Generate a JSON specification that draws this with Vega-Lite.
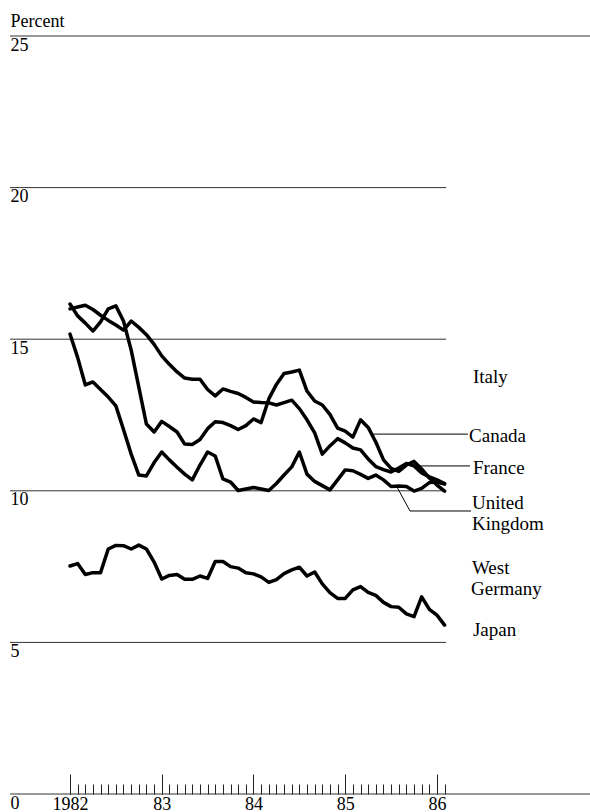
{
  "$schema": "https://vega.github.io/schema/vega-lite/v6.json",
  "width": 580,
  "height": 758,
  "autosize": {"type": "none"},
  "padding": {"left": 10, "top": 36, "right": 0, "bottom": 18},
  "background": "white",
  "config": {
    "view": {"stroke": null},
    "axis": {"labelFont": "Liberation Serif", "titleFont": "Liberation Serif"},
    "text": {"font": "Liberation Serif"}
  },
  "datasets": {
    "grid": [
      {"level": 25, "from": 1981.346, "to": 1987.668},
      {"level": 20, "from": 1981.346, "to": 1986.1},
      {"level": 15, "from": 1981.346, "to": 1986.1},
      {"level": 10, "from": 1981.346, "to": 1986.1},
      {"level": 5, "from": 1981.346, "to": 1986.1},
      {"level": 0, "from": 1981.346, "to": 1987.668}
    ],
    "series": [
      {"c": "Canada", "t": 1982, "v": 16.16}, {"c": "Canada", "t": 1982.083, "v": 15.77}, {"c": "Canada", "t": 1982.167, "v": 15.53}, {"c": "Canada", "t": 1982.25, "v": 15.27}, {"c": "Canada", "t": 1982.333, "v": 15.57}, {"c": "Canada", "t": 1982.417, "v": 16.0}, {"c": "Canada", "t": 1982.5, "v": 16.1}, {"c": "Canada", "t": 1982.583, "v": 15.6}, {"c": "Canada", "t": 1982.667, "v": 14.64}, {"c": "Canada", "t": 1982.75, "v": 13.42}, {"c": "Canada", "t": 1982.833, "v": 12.2}, {"c": "Canada", "t": 1982.917, "v": 11.94},
      {"c": "Canada", "t": 1983, "v": 12.29}, {"c": "Canada", "t": 1983.083, "v": 12.12}, {"c": "Canada", "t": 1983.167, "v": 11.94}, {"c": "Canada", "t": 1983.25, "v": 11.54}, {"c": "Canada", "t": 1983.333, "v": 11.53}, {"c": "Canada", "t": 1983.417, "v": 11.69}, {"c": "Canada", "t": 1983.5, "v": 12.05}, {"c": "Canada", "t": 1983.583, "v": 12.28}, {"c": "Canada", "t": 1983.667, "v": 12.25}, {"c": "Canada", "t": 1983.75, "v": 12.15}, {"c": "Canada", "t": 1983.833, "v": 12.02}, {"c": "Canada", "t": 1983.917, "v": 12.15},
      {"c": "Canada", "t": 1984, "v": 12.37}, {"c": "Canada", "t": 1984.083, "v": 12.25}, {"c": "Canada", "t": 1984.167, "v": 13.03}, {"c": "Canada", "t": 1984.25, "v": 13.51}, {"c": "Canada", "t": 1984.333, "v": 13.87}, {"c": "Canada", "t": 1984.417, "v": 13.92}, {"c": "Canada", "t": 1984.5, "v": 13.98}, {"c": "Canada", "t": 1984.583, "v": 13.29}, {"c": "Canada", "t": 1984.667, "v": 12.96}, {"c": "Canada", "t": 1984.75, "v": 12.83}, {"c": "Canada", "t": 1984.833, "v": 12.52}, {"c": "Canada", "t": 1984.917, "v": 12.07},
      {"c": "Canada", "t": 1985, "v": 11.97}, {"c": "Canada", "t": 1985.083, "v": 11.77}, {"c": "Canada", "t": 1985.167, "v": 12.34}, {"c": "Canada", "t": 1985.25, "v": 12.09}, {"c": "Canada", "t": 1985.333, "v": 11.61}, {"c": "Canada", "t": 1985.417, "v": 11.02}, {"c": "Canada", "t": 1985.5, "v": 10.74}, {"c": "Canada", "t": 1985.583, "v": 10.64}, {"c": "Canada", "t": 1985.667, "v": 10.85}, {"c": "Canada", "t": 1985.75, "v": 10.97}, {"c": "Canada", "t": 1985.833, "v": 10.72}, {"c": "Canada", "t": 1985.917, "v": 10.42},
      {"c": "Canada", "t": 1986, "v": 10.19}, {"c": "Canada", "t": 1986.083, "v": 9.99},

      {"c": "France", "t": 1982, "v": 16.0}, {"c": "France", "t": 1982.083, "v": 16.06}, {"c": "France", "t": 1982.167, "v": 16.12}, {"c": "France", "t": 1982.25, "v": 15.98}, {"c": "France", "t": 1982.333, "v": 15.79}, {"c": "France", "t": 1982.417, "v": 15.62}, {"c": "France", "t": 1982.5, "v": 15.47}, {"c": "France", "t": 1982.583, "v": 15.3}, {"c": "France", "t": 1982.667, "v": 15.6}, {"c": "France", "t": 1982.75, "v": 15.39}, {"c": "France", "t": 1982.833, "v": 15.15}, {"c": "France", "t": 1982.917, "v": 14.83},
      {"c": "France", "t": 1983, "v": 14.45}, {"c": "France", "t": 1983.083, "v": 14.17}, {"c": "France", "t": 1983.167, "v": 13.92}, {"c": "France", "t": 1983.25, "v": 13.72}, {"c": "France", "t": 1983.333, "v": 13.68}, {"c": "France", "t": 1983.417, "v": 13.68}, {"c": "France", "t": 1983.5, "v": 13.34}, {"c": "France", "t": 1983.583, "v": 13.13}, {"c": "France", "t": 1983.667, "v": 13.36}, {"c": "France", "t": 1983.75, "v": 13.28}, {"c": "France", "t": 1983.833, "v": 13.21}, {"c": "France", "t": 1983.917, "v": 13.08},
      {"c": "France", "t": 1984, "v": 12.93}, {"c": "France", "t": 1984.083, "v": 12.91}, {"c": "France", "t": 1984.167, "v": 12.9}, {"c": "France", "t": 1984.25, "v": 12.83}, {"c": "France", "t": 1984.333, "v": 12.91}, {"c": "France", "t": 1984.417, "v": 12.99}, {"c": "France", "t": 1984.5, "v": 12.71}, {"c": "France", "t": 1984.583, "v": 12.34}, {"c": "France", "t": 1984.667, "v": 11.91}, {"c": "France", "t": 1984.75, "v": 11.21}, {"c": "France", "t": 1984.833, "v": 11.48}, {"c": "France", "t": 1984.917, "v": 11.72},
      {"c": "France", "t": 1985, "v": 11.58}, {"c": "France", "t": 1985.083, "v": 11.41}, {"c": "France", "t": 1985.167, "v": 11.35}, {"c": "France", "t": 1985.25, "v": 11.05}, {"c": "France", "t": 1985.333, "v": 10.8}, {"c": "France", "t": 1985.417, "v": 10.7}, {"c": "France", "t": 1985.5, "v": 10.62}, {"c": "France", "t": 1985.583, "v": 10.75}, {"c": "France", "t": 1985.667, "v": 10.9}, {"c": "France", "t": 1985.75, "v": 10.82}, {"c": "France", "t": 1985.833, "v": 10.59}, {"c": "France", "t": 1985.917, "v": 10.46},
      {"c": "France", "t": 1986, "v": 10.36}, {"c": "France", "t": 1986.083, "v": 10.24},

      {"c": "United Kingdom", "t": 1982, "v": 15.17}, {"c": "United Kingdom", "t": 1982.083, "v": 14.4}, {"c": "United Kingdom", "t": 1982.167, "v": 13.49}, {"c": "United Kingdom", "t": 1982.25, "v": 13.59}, {"c": "United Kingdom", "t": 1982.333, "v": 13.34}, {"c": "United Kingdom", "t": 1982.417, "v": 13.09}, {"c": "United Kingdom", "t": 1982.5, "v": 12.8}, {"c": "United Kingdom", "t": 1982.583, "v": 12.02}, {"c": "United Kingdom", "t": 1982.667, "v": 11.21}, {"c": "United Kingdom", "t": 1982.75, "v": 10.52}, {"c": "United Kingdom", "t": 1982.833, "v": 10.49}, {"c": "United Kingdom", "t": 1982.917, "v": 10.93},
      {"c": "United Kingdom", "t": 1983, "v": 11.28}, {"c": "United Kingdom", "t": 1983.083, "v": 11.02}, {"c": "United Kingdom", "t": 1983.167, "v": 10.78}, {"c": "United Kingdom", "t": 1983.25, "v": 10.55}, {"c": "United Kingdom", "t": 1983.333, "v": 10.36}, {"c": "United Kingdom", "t": 1983.417, "v": 10.85}, {"c": "United Kingdom", "t": 1983.5, "v": 11.28}, {"c": "United Kingdom", "t": 1983.583, "v": 11.15}, {"c": "United Kingdom", "t": 1983.667, "v": 10.39}, {"c": "United Kingdom", "t": 1983.75, "v": 10.29}, {"c": "United Kingdom", "t": 1983.833, "v": 10.01}, {"c": "United Kingdom", "t": 1983.917, "v": 10.06},
      {"c": "United Kingdom", "t": 1984, "v": 10.11}, {"c": "United Kingdom", "t": 1984.083, "v": 10.06}, {"c": "United Kingdom", "t": 1984.167, "v": 10.01}, {"c": "United Kingdom", "t": 1984.25, "v": 10.24}, {"c": "United Kingdom", "t": 1984.333, "v": 10.52}, {"c": "United Kingdom", "t": 1984.417, "v": 10.79}, {"c": "United Kingdom", "t": 1984.5, "v": 11.28}, {"c": "United Kingdom", "t": 1984.583, "v": 10.55}, {"c": "United Kingdom", "t": 1984.667, "v": 10.31}, {"c": "United Kingdom", "t": 1984.75, "v": 10.17}, {"c": "United Kingdom", "t": 1984.833, "v": 10.03}, {"c": "United Kingdom", "t": 1984.917, "v": 10.36},
      {"c": "United Kingdom", "t": 1985, "v": 10.69}, {"c": "United Kingdom", "t": 1985.083, "v": 10.66}, {"c": "United Kingdom", "t": 1985.167, "v": 10.54}, {"c": "United Kingdom", "t": 1985.25, "v": 10.41}, {"c": "United Kingdom", "t": 1985.333, "v": 10.52}, {"c": "United Kingdom", "t": 1985.417, "v": 10.36}, {"c": "United Kingdom", "t": 1985.5, "v": 10.14}, {"c": "United Kingdom", "t": 1985.583, "v": 10.16}, {"c": "United Kingdom", "t": 1985.667, "v": 10.14}, {"c": "United Kingdom", "t": 1985.75, "v": 9.99}, {"c": "United Kingdom", "t": 1985.833, "v": 10.08}, {"c": "United Kingdom", "t": 1985.917, "v": 10.27},
      {"c": "United Kingdom", "t": 1986, "v": 10.29}, {"c": "United Kingdom", "t": 1986.083, "v": 10.22},

      {"c": "Japan", "t": 1982, "v": 7.52}, {"c": "Japan", "t": 1982.083, "v": 7.6}, {"c": "Japan", "t": 1982.167, "v": 7.24}, {"c": "Japan", "t": 1982.25, "v": 7.3}, {"c": "Japan", "t": 1982.333, "v": 7.3}, {"c": "Japan", "t": 1982.417, "v": 8.08}, {"c": "Japan", "t": 1982.5, "v": 8.2}, {"c": "Japan", "t": 1982.583, "v": 8.19}, {"c": "Japan", "t": 1982.667, "v": 8.08}, {"c": "Japan", "t": 1982.75, "v": 8.21}, {"c": "Japan", "t": 1982.833, "v": 8.08}, {"c": "Japan", "t": 1982.917, "v": 7.65},
      {"c": "Japan", "t": 1983, "v": 7.09}, {"c": "Japan", "t": 1983.083, "v": 7.21}, {"c": "Japan", "t": 1983.167, "v": 7.24}, {"c": "Japan", "t": 1983.25, "v": 7.08}, {"c": "Japan", "t": 1983.333, "v": 7.08}, {"c": "Japan", "t": 1983.417, "v": 7.19}, {"c": "Japan", "t": 1983.5, "v": 7.11}, {"c": "Japan", "t": 1983.583, "v": 7.67}, {"c": "Japan", "t": 1983.667, "v": 7.67}, {"c": "Japan", "t": 1983.75, "v": 7.5}, {"c": "Japan", "t": 1983.833, "v": 7.45}, {"c": "Japan", "t": 1983.917, "v": 7.3},
      {"c": "Japan", "t": 1984, "v": 7.26}, {"c": "Japan", "t": 1984.083, "v": 7.16}, {"c": "Japan", "t": 1984.167, "v": 6.98}, {"c": "Japan", "t": 1984.25, "v": 7.07}, {"c": "Japan", "t": 1984.333, "v": 7.27}, {"c": "Japan", "t": 1984.417, "v": 7.39}, {"c": "Japan", "t": 1984.5, "v": 7.48}, {"c": "Japan", "t": 1984.583, "v": 7.19}, {"c": "Japan", "t": 1984.667, "v": 7.32}, {"c": "Japan", "t": 1984.75, "v": 6.93}, {"c": "Japan", "t": 1984.833, "v": 6.64}, {"c": "Japan", "t": 1984.917, "v": 6.45},
      {"c": "Japan", "t": 1985, "v": 6.45}, {"c": "Japan", "t": 1985.083, "v": 6.73}, {"c": "Japan", "t": 1985.167, "v": 6.84}, {"c": "Japan", "t": 1985.25, "v": 6.65}, {"c": "Japan", "t": 1985.333, "v": 6.55}, {"c": "Japan", "t": 1985.417, "v": 6.32}, {"c": "Japan", "t": 1985.5, "v": 6.18}, {"c": "Japan", "t": 1985.583, "v": 6.16}, {"c": "Japan", "t": 1985.667, "v": 5.94}, {"c": "Japan", "t": 1985.75, "v": 5.85}, {"c": "Japan", "t": 1985.833, "v": 6.5}, {"c": "Japan", "t": 1985.917, "v": 6.09},
      {"c": "Japan", "t": 1986, "v": 5.9}, {"c": "Japan", "t": 1986.083, "v": 5.57}
    ],
    "leaders": [
      {"x": 1985.302, "y": 11.87, "x2": 1986.338, "y2": 11.87},
      {"x": 1985.76, "y": 10.82, "x2": 1986.36, "y2": 10.82},
      {"x": 1985.564, "y": 10.125, "x2": 1985.706, "y2": 9.334},
      {"x": 1985.706, "y": 9.334, "x2": 1986.371, "y2": 9.334}
    ],
    "labels": [
      {"label": "Italy", "x": 1986.392, "y": 13.75},
      {"label": "Canada", "x": 1986.35, "y": 11.81},
      {"label": "France", "x": 1986.392, "y": 10.75},
      {"label": "United", "x": 1986.381, "y": 9.6},
      {"label": "Kingdom", "x": 1986.381, "y": 8.9},
      {"label": "West", "x": 1986.381, "y": 7.45},
      {"label": "Germany", "x": 1986.371, "y": 6.76},
      {"label": "Japan", "x": 1986.392, "y": 5.41}
    ]
  },
  "resolve": {"axis": {"x": "independent"}},
  "layer": [
    {
      "data": {"name": "grid"},
      "mark": {"type": "rule", "color": "#333", "strokeWidth": 1},
      "encoding": {
        "x": {
          "field": "from", "type": "quantitative",
          "scale": {"domain": [1981.346, 1987.668], "nice": false, "zero": false},
          "axis": {
            "orient": "bottom",
            "title": null,
            "grid": false,
            "domain": false,
            "values": [1982, 1983, 1984, 1985, 1986],
            "tickSize": -20,
            "tickColor": "#222",
            "tickWidth": 1,
            "labelExpr": "datum.value == 1982 ? '1982' : slice(toString(datum.value), 2)",
            "labelFontSize": 18,
            "labelColor": "black",
            "labelPadding": 21,
            "labelFlush": false,
            "labelOverlap": false,
            "labelBound": false
          }
        },
        "x2": {"field": "to"},
        "y": {
          "field": "level", "type": "quantitative",
          "scale": {"domain": [0, 25], "nice": false, "zero": true},
          "axis": {
            "values": [0, 5, 10, 15, 20, 25],
            "grid": false,
            "ticks": false,
            "domain": false,
            "labelAlign": "left",
            "labelBaseline": "top",
            "labelPadding": 0,
            "labelOffset": 0,
            "labelFontSize": 18,
            "labelColor": "black",
            "labelFlush": false,
            "labelOverlap": false,
            "title": "Percent",
            "titleAngle": 0,
            "titleAlign": "left",
            "titleBaseline": "alphabetic",
            "titleX": 0,
            "titleY": -10,
            "titleFontSize": 18,
            "titleFontWeight": "normal",
            "titleColor": "black"
          }
        }
      }
    },
    {
      "data": {"name": "series"},
      "mark": {"type": "line", "color": "black", "strokeJoin": "round", "strokeCap": "round"},
      "encoding": {
        "x": {
          "field": "t", "type": "quantitative",
          "axis": {
            "orient": "bottom",
            "title": null,
            "grid": false,
            "domain": false,
            "labels": false,
            "values": [1982, 1982.083, 1982.167, 1982.25, 1982.333, 1982.417, 1982.5, 1982.583, 1982.667, 1982.75, 1982.833, 1982.917,
                       1983, 1983.083, 1983.167, 1983.25, 1983.333, 1983.417, 1983.5, 1983.583, 1983.667, 1983.75, 1983.833, 1983.917,
                       1984, 1984.083, 1984.167, 1984.25, 1984.333, 1984.417, 1984.5, 1984.583, 1984.667, 1984.75, 1984.833, 1984.917,
                       1985, 1985.083, 1985.167, 1985.25, 1985.333, 1985.417, 1985.5, 1985.583, 1985.667, 1985.75, 1985.833, 1985.917,
                       1986, 1986.083],
            "tickSize": -10,
            "tickColor": "#222",
            "tickWidth": 1
          }
        },
        "y": {"field": "v", "type": "quantitative"},
        "detail": {"field": "c", "type": "nominal"},
        "strokeWidth": {
          "field": "c", "type": "nominal",
          "scale": {"domain": ["Canada", "France", "United Kingdom", "Japan"], "range": [3.5, 3.5, 1.3, 3.8]},
          "legend": null
        }
      }
    },
    {
      "data": {"name": "leaders"},
      "mark": {"type": "rule", "color": "black", "strokeWidth": 1},
      "encoding": {
        "x": {"field": "x", "type": "quantitative", "axis": null},
        "x2": {"field": "x2"},
        "y": {"field": "y", "type": "quantitative"},
        "y2": {"field": "y2"}
      }
    },
    {
      "data": {"name": "labels"},
      "mark": {"type": "text", "align": "left", "baseline": "middle", "fontSize": 19, "color": "black", "font": "Liberation Serif"},
      "encoding": {
        "x": {"field": "x", "type": "quantitative", "axis": null},
        "y": {"field": "y", "type": "quantitative"},
        "text": {"field": "label"}
      }
    }
  ]
}
